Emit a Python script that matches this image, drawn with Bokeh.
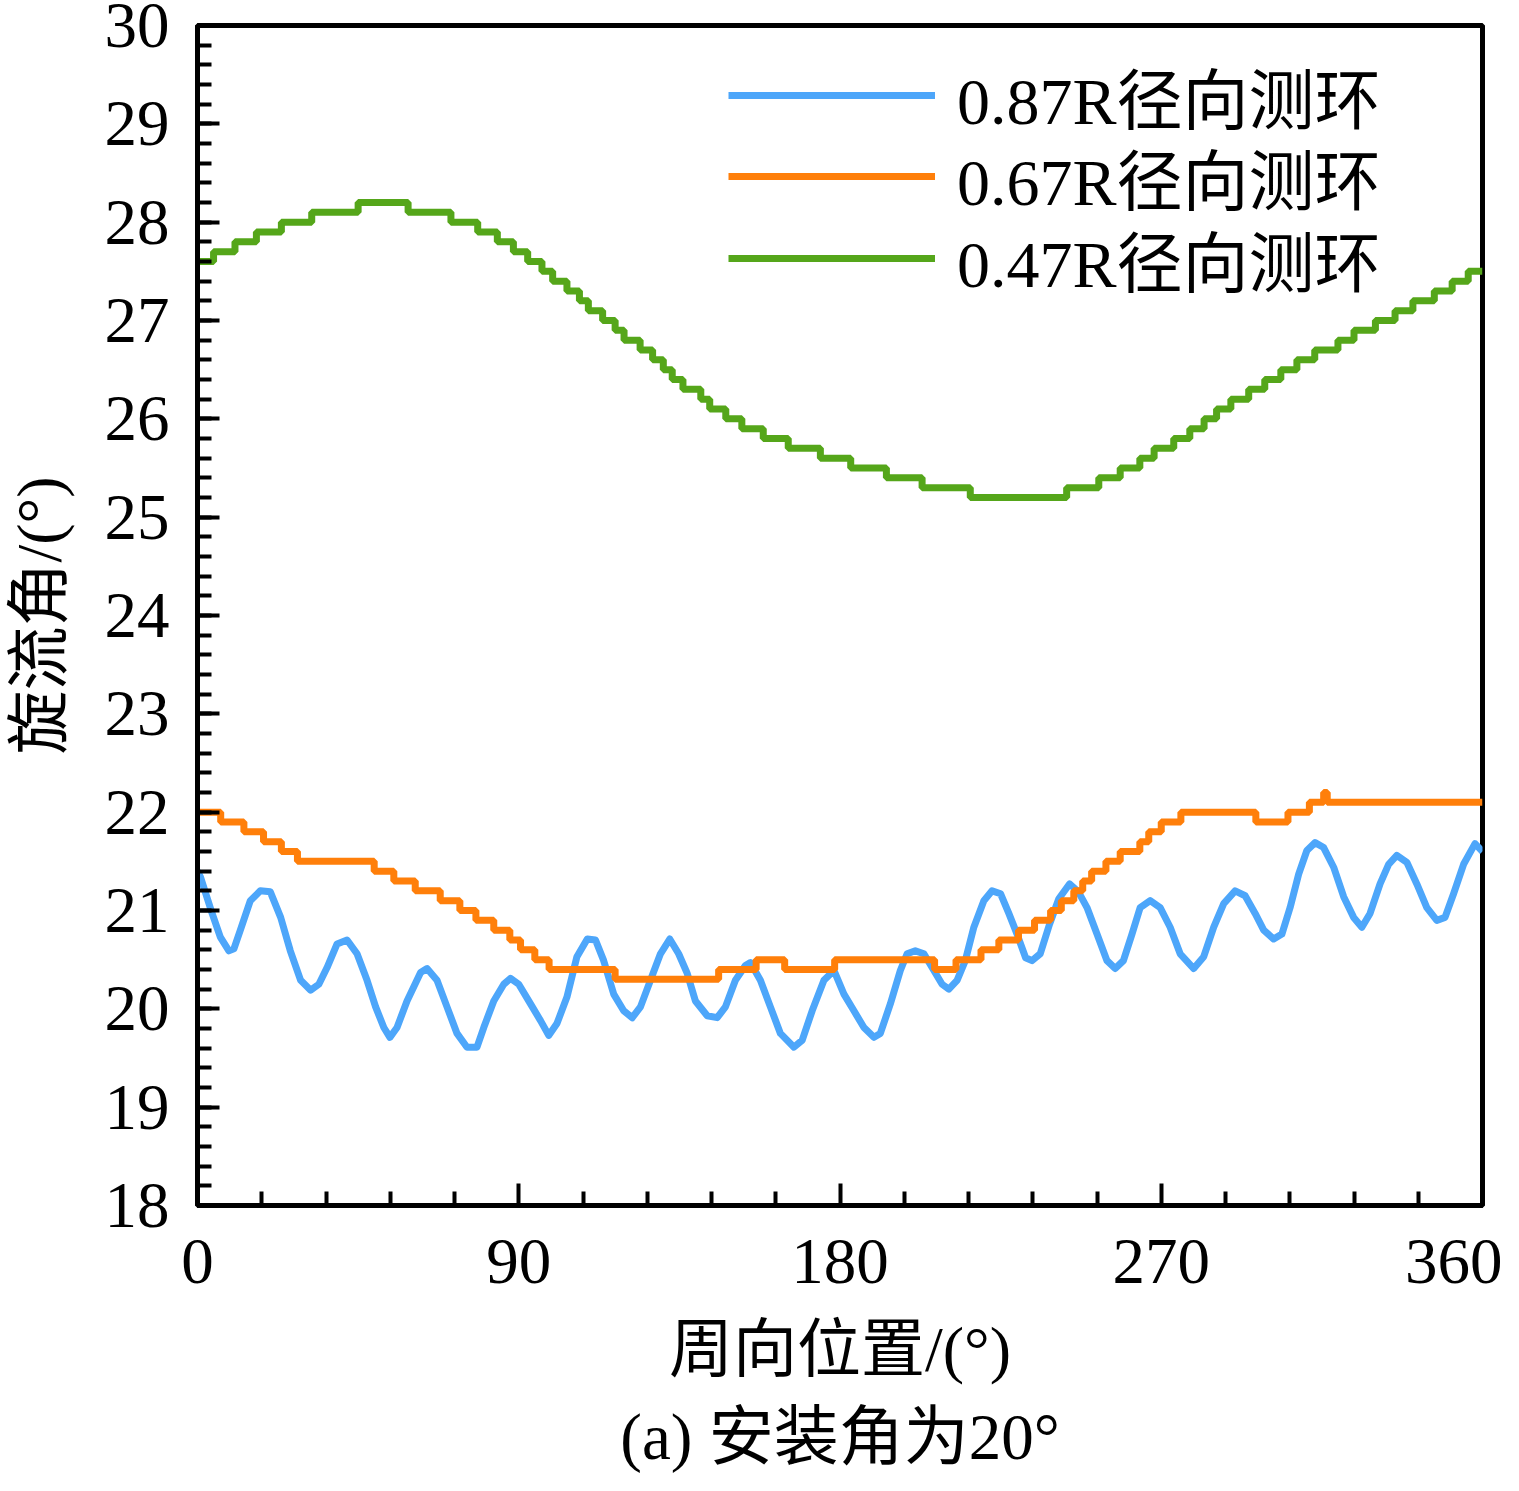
from bokeh.plotting import figure
from bokeh.models import Range1d, FixedTicker, Legend, LegendItem, Title
from bokeh.embed import file_html
from bokeh.resources import INLINE

FONT = "'Liberation Serif', 'Noto Sans CJK SC', serif"

# ---- data ----
# 0.87R (blue) : circumferential position (deg), swirl angle (deg)
blue_x = [0, 0.84, 4.1, 6.4, 8.8, 10.2, 12.0, 14.8, 17.6, 20.4, 23.3, 26.0, 28.9, 31.7, 34.0, 36.3,
          39.1, 41.9, 44.7, 47.5, 49.9, 52.2, 53.9, 55.9, 58.7, 62.5, 64.3, 67.1, 69.9, 72.7, 75.5,
          78.3, 80.2, 83.0, 85.8, 87.7, 90.0, 93.3, 96.1, 98.4, 100.7, 103.5, 106.3, 109.2, 111.5,
          113.8, 116.6, 119.4, 121.8, 124.1, 126.9, 129.7, 132.3, 134.8, 137.2, 139.5, 142.8, 145.6,
          147.9, 150.7, 153.5, 154.9, 157.7, 160.5, 163.3, 167.1, 169.4, 172.2, 175.5, 178.3, 181.1,
          183.9, 186.7, 189.5, 191.3, 194.1, 196.9, 198.8, 201.1, 203.5, 206.3, 208.6, 210.5, 212.8,
          215.1, 217.5, 220.3, 222.6, 225.0, 227.3, 229.6, 232.0, 233.8, 236.1, 238.7, 241.3, 244.3,
          246.8, 249.2, 252.0, 254.8, 257.1, 259.4, 261.8, 264.1, 266.9, 269.7, 272.5, 275.3, 279.1,
          281.9, 284.7, 287.5, 290.7, 293.5, 296.3, 298.7, 301.5, 303.8, 306.1, 308.5, 310.8, 313.1,
          315.5, 318.3, 321.1, 323.9, 326.2, 328.5, 331.3, 333.7, 336.0, 338.8, 341.6, 344.4, 347.2,
          349.5, 351.9, 354.7, 357.9, 360]
blue_y = [21.40, 21.34, 20.97, 20.73, 20.59, 20.61, 20.80, 21.10, 21.20, 21.19, 20.93, 20.59, 20.29,
          20.19, 20.25, 20.42, 20.66, 20.70, 20.56, 20.29, 20.02, 19.81, 19.71, 19.81, 20.08, 20.37,
          20.41, 20.29, 20.02, 19.75, 19.61, 19.61, 19.81, 20.08, 20.25, 20.31, 20.25, 20.05, 19.88,
          19.73, 19.85, 20.12, 20.53, 20.71, 20.70, 20.49, 20.15, 19.98, 19.91, 20.02, 20.29, 20.56,
          20.71, 20.56, 20.36, 20.08, 19.93, 19.91, 20.02, 20.29, 20.44, 20.47, 20.29, 20.02, 19.75,
          19.61, 19.68, 19.98, 20.29, 20.39, 20.15, 19.98, 19.81, 19.71, 19.75, 20.05, 20.39, 20.56,
          20.59, 20.56, 20.39, 20.25, 20.20, 20.29, 20.49, 20.83, 21.10, 21.20, 21.17, 20.97, 20.76,
          20.52, 20.49, 20.56, 20.86, 21.12, 21.27, 21.19, 21.03, 20.76, 20.49, 20.41, 20.49, 20.76,
          21.03, 21.10, 21.03, 20.83, 20.56, 20.41, 20.53, 20.83, 21.07, 21.20, 21.15, 20.97, 20.80,
          20.71, 20.76, 21.03, 21.37, 21.61, 21.69, 21.64, 21.44, 21.14, 20.93, 20.83, 20.97, 21.27,
          21.47, 21.56, 21.49, 21.27, 21.03, 20.90, 20.93, 21.17, 21.47, 21.68, 21.60]

# 0.67R (orange): start of each level, level value
orange_x = [0, 6.5, 13, 18.5, 23.5, 28, 49.5, 55, 61, 68, 73.5, 78, 83, 87.5, 90.5, 94.5, 98.5,
            117, 146, 156.5, 164.5, 178.5, 206.5, 212.5, 219.5, 224.5, 230, 234.5, 239, 242, 245.5,
            248, 250.5, 254.5, 258.5, 264, 266.5, 270, 275.5, 296.5, 305.5, 311.5, 315.5, 316.5, 360]
orange_y = [22.0, 21.9, 21.8, 21.7, 21.6, 21.5, 21.4, 21.3, 21.2, 21.1, 21.0, 20.9, 20.8, 20.7, 20.6,
            20.5, 20.4, 20.3, 20.4, 20.5, 20.4, 20.5, 20.4, 20.5, 20.6, 20.7, 20.8, 20.9, 21.0, 21.1,
            21.2, 21.3, 21.4, 21.5, 21.6, 21.7, 21.8, 21.9, 22.0, 21.9, 22.0, 22.1, 22.2, 22.1, 22.1]

# 0.47R (green): start of each level, level value
green_x = [0, 4.5, 10.5, 16.5, 23.5, 32, 45, 59, 71, 78.5, 84, 88.5, 92.5, 96.5, 99.5, 103.5, 107,
           109.5, 113.5, 117, 119.5, 124, 127.5, 130.5, 133, 136, 141, 143.5, 148, 152.5, 158.5,
           165.5, 174.5, 183, 193, 203, 216.5, 243.5, 252.5, 258.5, 264, 268, 273.5, 278, 282,
           285.5, 289.5, 294.5, 299, 303.5, 308, 313, 319.5, 324, 330, 335.5, 340.5, 346.5, 351.5,
           356, 360]
green_y = [27.6, 27.7, 27.8, 27.9, 28.0, 28.1, 28.2, 28.1, 28.0, 27.9, 27.8, 27.7, 27.6, 27.5, 27.4,
           27.3, 27.2, 27.1, 27.0, 26.9, 26.8, 26.7, 26.6, 26.5, 26.4, 26.3, 26.2, 26.1, 26.0, 25.9,
           25.8, 25.7, 25.6, 25.5, 25.4, 25.3, 25.2, 25.3, 25.4, 25.5, 25.6, 25.7, 25.8, 25.9, 26.0,
           26.1, 26.2, 26.3, 26.4, 26.5, 26.6, 26.7, 26.8, 26.9, 27.0, 27.1, 27.2, 27.3, 27.4, 27.5,
           27.5]

series_labels = ["0.87R径向测环", "0.67R径向测环", "0.47R径向测环"]
x_ticks = [0, 90, 180, 270, 360]
x_minor_ticks = [18, 36, 54, 72, 108, 126, 144, 162, 198, 216, 234, 252, 288, 306, 324, 342]
y_ticks = list(range(18, 31))
y_minor_ticks = [v / 10 for v in range(180, 301, 2)]

x_label = "周向位置/(°)"
y_label = "旋流角/(°)"
caption = "(a) 安装角为20°"

BLUE = "#4DA6FA"
ORANGE = "#FF7F0A"
GREEN = "#55A61A"

p = figure(frame_width=1285, frame_height=1180, output_backend="svg", toolbar_location=None,
           x_range=Range1d(0, 360), y_range=Range1d(18, 30),
           min_border_left=197, min_border_top=25, min_border_right=20, min_border_bottom=10)
p.background_fill_color = "white"
p.border_fill_color = "white"
p.grid.visible = False
p.outline_line_color = "black"
p.outline_line_width = 5

rb = p.line(blue_x, blue_y, line_color=BLUE, line_width=7, line_join="round")
ro = p.step(orange_x, orange_y, mode="after", line_color=ORANGE, line_width=7)
rg = p.step(green_x, green_y, mode="after", line_color=GREEN, line_width=7)

p.xaxis.ticker = FixedTicker(ticks=x_ticks, minor_ticks=x_minor_ticks)
p.yaxis.ticker = FixedTicker(ticks=y_ticks, minor_ticks=y_minor_ticks)

for ax in (p.xaxis[0], p.yaxis[0]):
    ax.axis_line_width = 5
    ax.axis_line_color = "black"
    ax.major_tick_in = 22
    ax.major_tick_out = 0
    ax.minor_tick_in = 14
    ax.minor_tick_out = 0
    ax.major_tick_line_width = 4
    ax.minor_tick_line_width = 4
    ax.major_label_text_font = FONT
    ax.major_label_text_font_size = "65px"
    ax.major_label_text_color = "black"
    ax.axis_label_text_font = FONT
    ax.axis_label_text_font_size = "64px"
    ax.axis_label_text_font_style = "normal"
    ax.axis_label_text_color = "black"

p.xaxis.axis_label = x_label
p.yaxis.axis_label = y_label
p.xaxis.major_label_standoff = 34
p.yaxis.major_label_standoff = 28
p.xaxis.axis_label_standoff = 28
p.yaxis.axis_label_standoff = 27

# one legend block per entry, so each row sits where the reference puts it
renderers = [rb, ro, rg]
row_bottoms = [1062, 981, 899]
for lab, r, yb in zip(series_labels, renderers, row_bottoms):
    lg = Legend(items=[LegendItem(label=lab, renderers=[r])],
                location=(531, yb), orientation="vertical",
                border_line_color=None, background_fill_alpha=0, padding=0, margin=0,
                spacing=0, glyph_width=207, glyph_height=96, label_height=96,
                label_standoff=22, label_text_font=FONT, label_text_font_size="66px",
                label_text_color="black")
    p.add_layout(lg, "center")

p.add_layout(Title(text=caption, align="center", text_font=FONT, text_font_size="65px",
                   text_font_style="normal", text_color="black", standoff=22), "below")

open("out.html", "w").write(file_html(p, INLINE))
